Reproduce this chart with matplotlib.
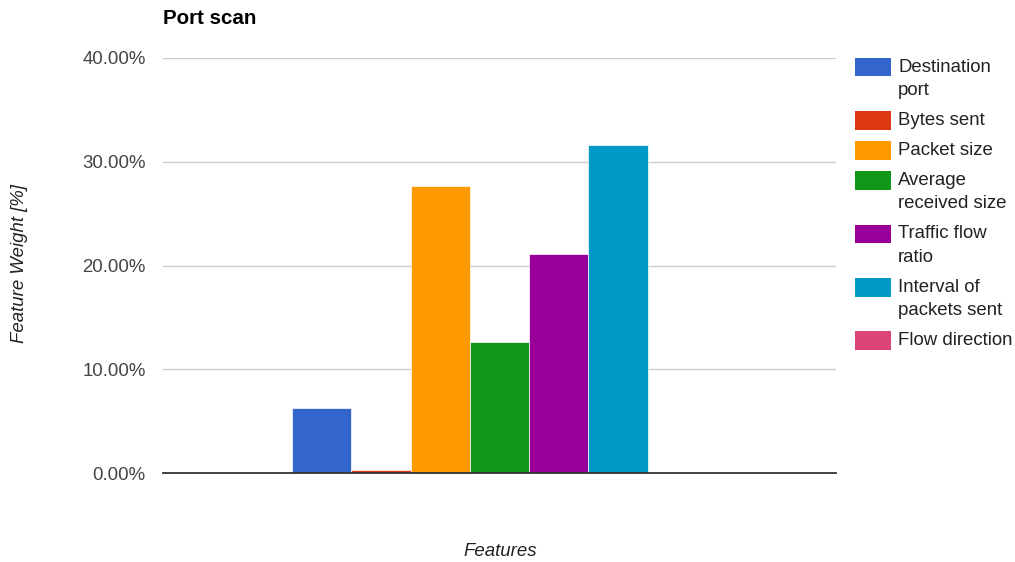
import matplotlib.pyplot as plt
from matplotlib.patches import Rectangle
from matplotlib.ticker import FuncFormatter

plt.rcParams['font.family'] = ['Liberation Sans', 'DejaVu Sans']

## 1. Data
features = ['Destination\nport', 'Bytes sent', 'Packet size', 'Average\nreceived size',
            'Traffic flow\nratio', 'Interval of\npackets sent', 'Flow direction']
weights = [6.3, 0.3, 27.63, 12.6, 21.1, 31.6, 0.0]
colors = ['#3366cc', '#dc3912', '#ff9900', '#109618', '#990099', '#0099c6', '#dd4477']
yticks = [0, 10, 20, 30, 40]

## 2. Figure (pixel layout: plot area x 163-836, y 58-473)
W, H = 1015, 562
fig = plt.figure(figsize=(W / 100, H / 100), dpi=100)
ax = fig.add_axes([163 / W, 1 - 473 / H, (836 - 163) / W, (473 - 58) / H])

xs = list(range(len(weights)))
ax.bar(xs, weights, width=1.0, color=colors, edgecolor='white', linewidth=0.5, zorder=3)

ax.set_xlim(-2.675, len(weights) - 1 + 2.675)
ax.set_ylim(0, 40)
ax.set_yticks(yticks)
ax.yaxis.set_major_formatter(FuncFormatter(lambda v, p: '%.2f%%' % v))
ax.set_xticks([])
ax.grid(axis='y', color='#cccccc', linewidth=1, zorder=0)
ax.tick_params(axis='y', length=0, pad=12.5, labelsize=13.4, labelcolor='#444444')
for s in ['top', 'right', 'left']:
    ax.spines[s].set_visible(False)
ax.spines['bottom'].set_color('#333333')
ax.spines['bottom'].set_linewidth(1.3)
ax.spines['bottom'].set_zorder(4)

## 3. Texts
fig.text(163 / W, 1 - 18 / H, 'Port scan', fontsize=14.8, fontweight='bold',
         color='#000000', ha='left', va='center')
fig.text(20 / W, 1 - 264 / H, 'Feature Weight [%]', fontsize=13.4, style='italic',
         color='#222222', rotation=90, ha='center', va='center')
fig.text(500 / W, 1 - 552 / H, 'Features', fontsize=13.4, style='italic',
         color='#222222', ha='center', va='center')

## 4. Legend (swatch aligned with first line of each label)
y = 67
for name, c in zip(features, colors):
    fig.add_artist(Rectangle((855 / W, 1 - (y + 9.3) / H), 36 / W, 18.6 / H,
                             transform=fig.transFigure, facecolor=c, edgecolor='none'))
    lines = name.split('\n')
    for k, line in enumerate(lines):
        fig.text(898 / W, 1 - (y + k * 23.4) / H, line, fontsize=13.4,
                 color='#222222', ha='left', va='center')
    y += 30 + 23.4 * (len(lines) - 1)

## 5. Save
plt.savefig('out.png', dpi=100)
plt.close()
